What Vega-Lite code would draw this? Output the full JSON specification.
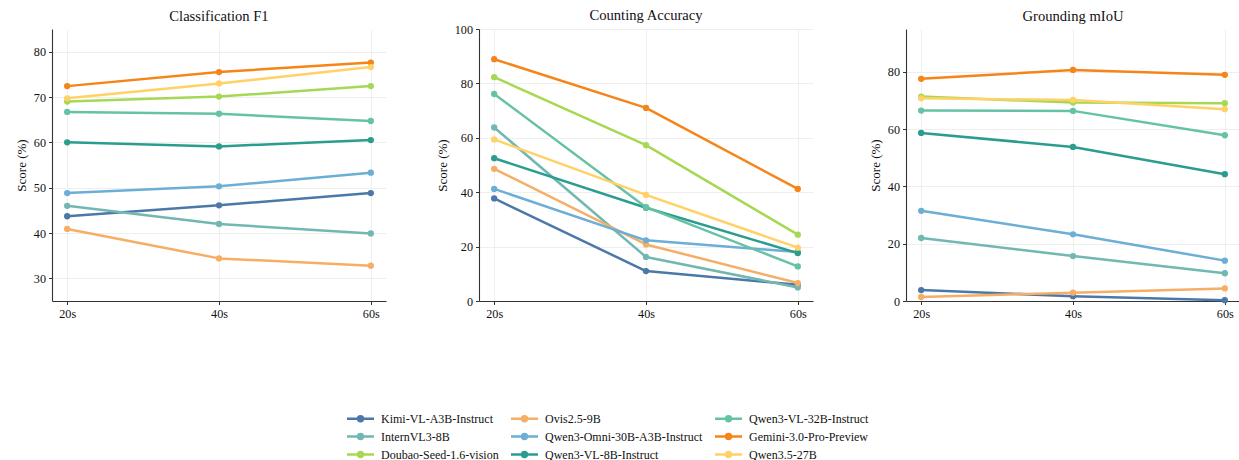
{
  "$schema": "https://vega.github.io/schema/vega-lite/v6.json",
  "padding": {"left": 15, "top": 8, "right": 0, "bottom": 0},
  "background": "white",
  "data": {"values": [
    {"task": "Classification F1", "model": "Kimi-VL-A3B-Instruct", "duration": "20s", "score": 43.7},
    {"task": "Classification F1", "model": "Kimi-VL-A3B-Instruct", "duration": "40s", "score": 46.1},
    {"task": "Classification F1", "model": "Kimi-VL-A3B-Instruct", "duration": "60s", "score": 48.8},
    {"task": "Classification F1", "model": "InternVL3-8B", "duration": "20s", "score": 46.0},
    {"task": "Classification F1", "model": "InternVL3-8B", "duration": "40s", "score": 42.0},
    {"task": "Classification F1", "model": "InternVL3-8B", "duration": "60s", "score": 39.9},
    {"task": "Classification F1", "model": "Doubao-Seed-1.6-vision", "duration": "20s", "score": 69.0},
    {"task": "Classification F1", "model": "Doubao-Seed-1.6-vision", "duration": "40s", "score": 70.1},
    {"task": "Classification F1", "model": "Doubao-Seed-1.6-vision", "duration": "60s", "score": 72.4},
    {"task": "Classification F1", "model": "Ovis2.5-9B", "duration": "20s", "score": 40.9},
    {"task": "Classification F1", "model": "Ovis2.5-9B", "duration": "40s", "score": 34.4},
    {"task": "Classification F1", "model": "Ovis2.5-9B", "duration": "60s", "score": 32.8},
    {"task": "Classification F1", "model": "Qwen3-Omni-30B-A3B-Instruct", "duration": "20s", "score": 48.8},
    {"task": "Classification F1", "model": "Qwen3-Omni-30B-A3B-Instruct", "duration": "40s", "score": 50.3},
    {"task": "Classification F1", "model": "Qwen3-Omni-30B-A3B-Instruct", "duration": "60s", "score": 53.3},
    {"task": "Classification F1", "model": "Qwen3-VL-8B-Instruct", "duration": "20s", "score": 60.0},
    {"task": "Classification F1", "model": "Qwen3-VL-8B-Instruct", "duration": "40s", "score": 59.1},
    {"task": "Classification F1", "model": "Qwen3-VL-8B-Instruct", "duration": "60s", "score": 60.5},
    {"task": "Classification F1", "model": "Qwen3-VL-32B-Instruct", "duration": "20s", "score": 66.7},
    {"task": "Classification F1", "model": "Qwen3-VL-32B-Instruct", "duration": "40s", "score": 66.3},
    {"task": "Classification F1", "model": "Qwen3-VL-32B-Instruct", "duration": "60s", "score": 64.7},
    {"task": "Classification F1", "model": "Gemini-3.0-Pro-Preview", "duration": "20s", "score": 72.4},
    {"task": "Classification F1", "model": "Gemini-3.0-Pro-Preview", "duration": "40s", "score": 75.5},
    {"task": "Classification F1", "model": "Gemini-3.0-Pro-Preview", "duration": "60s", "score": 77.6},
    {"task": "Classification F1", "model": "Qwen3.5-27B", "duration": "20s", "score": 69.7},
    {"task": "Classification F1", "model": "Qwen3.5-27B", "duration": "40s", "score": 73.0},
    {"task": "Classification F1", "model": "Qwen3.5-27B", "duration": "60s", "score": 76.6},

    {"task": "Counting Accuracy", "model": "Kimi-VL-A3B-Instruct", "duration": "20s", "score": 37.7},
    {"task": "Counting Accuracy", "model": "Kimi-VL-A3B-Instruct", "duration": "40s", "score": 11.0},
    {"task": "Counting Accuracy", "model": "Kimi-VL-A3B-Instruct", "duration": "60s", "score": 6.0},
    {"task": "Counting Accuracy", "model": "InternVL3-8B", "duration": "20s", "score": 63.8},
    {"task": "Counting Accuracy", "model": "InternVL3-8B", "duration": "40s", "score": 16.2},
    {"task": "Counting Accuracy", "model": "InternVL3-8B", "duration": "60s", "score": 5.0},
    {"task": "Counting Accuracy", "model": "Doubao-Seed-1.6-vision", "duration": "20s", "score": 82.3},
    {"task": "Counting Accuracy", "model": "Doubao-Seed-1.6-vision", "duration": "40s", "score": 57.3},
    {"task": "Counting Accuracy", "model": "Doubao-Seed-1.6-vision", "duration": "60s", "score": 24.4},
    {"task": "Counting Accuracy", "model": "Ovis2.5-9B", "duration": "20s", "score": 48.6},
    {"task": "Counting Accuracy", "model": "Ovis2.5-9B", "duration": "40s", "score": 20.8},
    {"task": "Counting Accuracy", "model": "Ovis2.5-9B", "duration": "60s", "score": 6.6},
    {"task": "Counting Accuracy", "model": "Qwen3-Omni-30B-A3B-Instruct", "duration": "20s", "score": 41.2},
    {"task": "Counting Accuracy", "model": "Qwen3-Omni-30B-A3B-Instruct", "duration": "40s", "score": 22.3},
    {"task": "Counting Accuracy", "model": "Qwen3-Omni-30B-A3B-Instruct", "duration": "60s", "score": 18.0},
    {"task": "Counting Accuracy", "model": "Qwen3-VL-8B-Instruct", "duration": "20s", "score": 52.5},
    {"task": "Counting Accuracy", "model": "Qwen3-VL-8B-Instruct", "duration": "40s", "score": 34.3},
    {"task": "Counting Accuracy", "model": "Qwen3-VL-8B-Instruct", "duration": "60s", "score": 17.6},
    {"task": "Counting Accuracy", "model": "Qwen3-VL-32B-Instruct", "duration": "20s", "score": 76.1},
    {"task": "Counting Accuracy", "model": "Qwen3-VL-32B-Instruct", "duration": "40s", "score": 34.5},
    {"task": "Counting Accuracy", "model": "Qwen3-VL-32B-Instruct", "duration": "60s", "score": 12.7},
    {"task": "Counting Accuracy", "model": "Gemini-3.0-Pro-Preview", "duration": "20s", "score": 88.9},
    {"task": "Counting Accuracy", "model": "Gemini-3.0-Pro-Preview", "duration": "40s", "score": 71.0},
    {"task": "Counting Accuracy", "model": "Gemini-3.0-Pro-Preview", "duration": "60s", "score": 41.2},
    {"task": "Counting Accuracy", "model": "Qwen3.5-27B", "duration": "20s", "score": 59.4},
    {"task": "Counting Accuracy", "model": "Qwen3.5-27B", "duration": "40s", "score": 39.0},
    {"task": "Counting Accuracy", "model": "Qwen3.5-27B", "duration": "60s", "score": 19.6},

    {"task": "Grounding mIoU", "model": "Kimi-VL-A3B-Instruct", "duration": "20s", "score": 3.8},
    {"task": "Grounding mIoU", "model": "Kimi-VL-A3B-Instruct", "duration": "40s", "score": 1.7},
    {"task": "Grounding mIoU", "model": "Kimi-VL-A3B-Instruct", "duration": "60s", "score": 0.3},
    {"task": "Grounding mIoU", "model": "InternVL3-8B", "duration": "20s", "score": 22.0},
    {"task": "Grounding mIoU", "model": "InternVL3-8B", "duration": "40s", "score": 15.7},
    {"task": "Grounding mIoU", "model": "InternVL3-8B", "duration": "60s", "score": 9.7},
    {"task": "Grounding mIoU", "model": "Doubao-Seed-1.6-vision", "duration": "20s", "score": 71.4},
    {"task": "Grounding mIoU", "model": "Doubao-Seed-1.6-vision", "duration": "40s", "score": 69.3},
    {"task": "Grounding mIoU", "model": "Doubao-Seed-1.6-vision", "duration": "60s", "score": 69.1},
    {"task": "Grounding mIoU", "model": "Ovis2.5-9B", "duration": "20s", "score": 1.4},
    {"task": "Grounding mIoU", "model": "Ovis2.5-9B", "duration": "40s", "score": 2.9},
    {"task": "Grounding mIoU", "model": "Ovis2.5-9B", "duration": "60s", "score": 4.4},
    {"task": "Grounding mIoU", "model": "Qwen3-Omni-30B-A3B-Instruct", "duration": "20s", "score": 31.5},
    {"task": "Grounding mIoU", "model": "Qwen3-Omni-30B-A3B-Instruct", "duration": "40s", "score": 23.3},
    {"task": "Grounding mIoU", "model": "Qwen3-Omni-30B-A3B-Instruct", "duration": "60s", "score": 14.1},
    {"task": "Grounding mIoU", "model": "Qwen3-VL-8B-Instruct", "duration": "20s", "score": 58.7},
    {"task": "Grounding mIoU", "model": "Qwen3-VL-8B-Instruct", "duration": "40s", "score": 53.8},
    {"task": "Grounding mIoU", "model": "Qwen3-VL-8B-Instruct", "duration": "60s", "score": 44.3},
    {"task": "Grounding mIoU", "model": "Qwen3-VL-32B-Instruct", "duration": "20s", "score": 66.5},
    {"task": "Grounding mIoU", "model": "Qwen3-VL-32B-Instruct", "duration": "40s", "score": 66.4},
    {"task": "Grounding mIoU", "model": "Qwen3-VL-32B-Instruct", "duration": "60s", "score": 57.9},
    {"task": "Grounding mIoU", "model": "Gemini-3.0-Pro-Preview", "duration": "20s", "score": 77.6},
    {"task": "Grounding mIoU", "model": "Gemini-3.0-Pro-Preview", "duration": "40s", "score": 80.7},
    {"task": "Grounding mIoU", "model": "Gemini-3.0-Pro-Preview", "duration": "60s", "score": 79.0},
    {"task": "Grounding mIoU", "model": "Qwen3.5-27B", "duration": "20s", "score": 70.8},
    {"task": "Grounding mIoU", "model": "Qwen3.5-27B", "duration": "40s", "score": 70.2},
    {"task": "Grounding mIoU", "model": "Qwen3.5-27B", "duration": "60s", "score": 67.0}
  ]},
  "bounds": "flush",
  "spacing": 93,
  "hconcat": [
    {
      "title": {"text": "Classification F1", "frame": "group"},
      "width": 334, "height": 272,
      "transform": [{"filter": "datum.task === 'Classification F1'"}],
      "encoding": {
        "x": {"field": "duration", "type": "ordinal", "scale": {"type": "point", "padding": 0.1}, "axis": {"title": null, "labelAngle": 0, "labelFont": "Liberation Serif", "labelFontSize": 12.2}},
        "y": {"field": "score", "type": "quantitative", "scale": {"domain": [25, 85], "nice": false, "zero": false}, "axis": {"title": "Score (%)", "values": [30, 40, 50, 60, 70, 80], "labelFont": "Liberation Serif", "labelFontSize": 12.2, "titleFont": "Liberation Serif", "titleFontSize": 13}},
        "color": {"field": "model", "type": "nominal",
          "scale": {"domain": ["Kimi-VL-A3B-Instruct", "Ovis2.5-9B", "Qwen3-VL-32B-Instruct", "InternVL3-8B", "Qwen3-Omni-30B-A3B-Instruct", "Gemini-3.0-Pro-Preview", "Doubao-Seed-1.6-vision", "Qwen3-VL-8B-Instruct", "Qwen3.5-27B"],
                    "range": ["#4C78A8", "#F6AE66", "#66C2A5", "#72B7B2", "#6BAED6", "#F58518", "#A6D854", "#2A9D8F", "#FFD166"]},
          "legend": {"title": null, "orient": "none", "legendX": 298, "legendY": 379, "columns": 3, "direction": "horizontal",
            "symbolType": "M-1.5,0H1.5M-0.27,0A0.27,0.27,0,1,1,0.27,0A0.27,0.27,0,1,1,-0.27,0Z",
            "symbolSize": 324, "symbolStrokeWidth": 2.5, "labelOffset": 10, "columnPadding": 10, "rowPadding": 1,
            "labelFont": "Liberation Serif", "labelFontSize": 12, "labelColor": "#111", "labelLimit": 300,
            "encode": {"symbols": {"update": {"fill": {"scale": "color", "field": "value"}, "stroke": {"scale": "color", "field": "value"}, "opacity": {"value": 1}}}}}
        }
      },
      "layer": [
        {"mark": {"type": "line", "strokeWidth": 2.5}},
        {"mark": {"type": "circle", "size": 40, "opacity": 1}}
      ]
    },
    {
      "title": {"text": "Counting Accuracy", "frame": "group", "offset": 0},
      "width": 334, "height": 272,
      "transform": [{"filter": "datum.task === 'Counting Accuracy'"}],
      "encoding": {
        "x": {"field": "duration", "type": "ordinal", "scale": {"type": "point", "padding": 0.1}, "axis": {"title": null, "labelAngle": 0, "labelFont": "Liberation Serif", "labelFontSize": 12.2}},
        "y": {"field": "score", "type": "quantitative", "scale": {"domain": [0, 100], "nice": false}, "axis": {"title": "Score (%)", "values": [0, 20, 40, 60, 80, 100], "labelFont": "Liberation Serif", "labelFontSize": 12.2, "titleFont": "Liberation Serif", "titleFontSize": 13}},
        "color": {"field": "model", "type": "nominal",
          "scale": {"domain": ["Kimi-VL-A3B-Instruct", "Ovis2.5-9B", "Qwen3-VL-32B-Instruct", "InternVL3-8B", "Qwen3-Omni-30B-A3B-Instruct", "Gemini-3.0-Pro-Preview", "Doubao-Seed-1.6-vision", "Qwen3-VL-8B-Instruct", "Qwen3.5-27B"],
                    "range": ["#4C78A8", "#F6AE66", "#66C2A5", "#72B7B2", "#6BAED6", "#F58518", "#A6D854", "#2A9D8F", "#FFD166"]},
          "legend": {"title": null, "orient": "none", "legendX": 298, "legendY": 379, "columns": 3, "direction": "horizontal",
            "symbolType": "M-1.5,0H1.5M-0.27,0A0.27,0.27,0,1,1,0.27,0A0.27,0.27,0,1,1,-0.27,0Z",
            "symbolSize": 324, "symbolStrokeWidth": 2.5, "labelOffset": 10, "columnPadding": 10, "rowPadding": 1,
            "labelFont": "Liberation Serif", "labelFontSize": 12, "labelColor": "#111", "labelLimit": 300,
            "encode": {"symbols": {"update": {"fill": {"scale": "color", "field": "value"}, "stroke": {"scale": "color", "field": "value"}, "opacity": {"value": 1}}}}}
        }
      },
      "layer": [
        {"mark": {"type": "line", "strokeWidth": 2.5}},
        {"mark": {"type": "circle", "size": 40, "opacity": 1}}
      ]
    },
    {
      "title": {"text": "Grounding mIoU", "frame": "group"},
      "width": 334, "height": 272,
      "transform": [{"filter": "datum.task === 'Grounding mIoU'"}],
      "encoding": {
        "x": {"field": "duration", "type": "ordinal", "scale": {"type": "point", "padding": 0.1}, "axis": {"title": null, "labelAngle": 0, "labelFont": "Liberation Serif", "labelFontSize": 12.2}},
        "y": {"field": "score", "type": "quantitative", "scale": {"domain": [0, 95], "nice": false}, "axis": {"title": "Score (%)", "values": [0, 20, 40, 60, 80], "labelFont": "Liberation Serif", "labelFontSize": 12.2, "titleFont": "Liberation Serif", "titleFontSize": 13}},
        "color": {"field": "model", "type": "nominal",
          "scale": {"domain": ["Kimi-VL-A3B-Instruct", "Ovis2.5-9B", "Qwen3-VL-32B-Instruct", "InternVL3-8B", "Qwen3-Omni-30B-A3B-Instruct", "Gemini-3.0-Pro-Preview", "Doubao-Seed-1.6-vision", "Qwen3-VL-8B-Instruct", "Qwen3.5-27B"],
                    "range": ["#4C78A8", "#F6AE66", "#66C2A5", "#72B7B2", "#6BAED6", "#F58518", "#A6D854", "#2A9D8F", "#FFD166"]},
          "legend": {"title": null, "orient": "none", "legendX": 298, "legendY": 379, "columns": 3, "direction": "horizontal",
            "symbolType": "M-1.5,0H1.5M-0.27,0A0.27,0.27,0,1,1,0.27,0A0.27,0.27,0,1,1,-0.27,0Z",
            "symbolSize": 324, "symbolStrokeWidth": 2.5, "labelOffset": 10, "columnPadding": 10, "rowPadding": 1,
            "labelFont": "Liberation Serif", "labelFontSize": 12, "labelColor": "#111", "labelLimit": 300,
            "encode": {"symbols": {"update": {"fill": {"scale": "color", "field": "value"}, "stroke": {"scale": "color", "field": "value"}, "opacity": {"value": 1}}}}}
        }
      },
      "layer": [
        {"mark": {"type": "line", "strokeWidth": 2.5}},
        {"mark": {"type": "circle", "size": 40, "opacity": 1}}
      ]
    }
  ],
  "config": {
    "view": {"stroke": null},
    "title": {"font": "Liberation Serif", "fontSize": 14.6, "fontWeight": "normal", "color": "#111", "offset": 5.5, "anchor": "middle"},
    "style": {
      "guide-label": {"font": "Liberation Serif", "fontSize": 12.2, "fill": "#111"},
      "guide-title": {"font": "Liberation Serif", "fontSize": 13, "fontWeight": "normal", "fill": "#111"}
    },
    "axis": {
      "labelFont": "Liberation Serif", "labelFontSize": 12.2, "labelColor": "#111", "labelPadding": 3,
      "titleFont": "Liberation Serif", "titleFontSize": 13, "titleFontWeight": "normal", "titleColor": "#111", "titlePadding": 5,
      "domainColor": "#333", "domainWidth": 1.1, "tickColor": "#333", "tickSize": 3.5, "tickWidth": 1,
      "grid": true, "gridColor": "#ebebeb", "gridWidth": 0.8
    },
    "axisX": {"grid": true, "labelFont": "Liberation Serif", "labelFontSize": 12.2},
    "axisY": {"labelFont": "Liberation Serif", "labelFontSize": 12.2, "titleFont": "Liberation Serif", "titleFontSize": 13},
    "line": {"strokeCap": "round", "strokeJoin": "round"}
  }
}
